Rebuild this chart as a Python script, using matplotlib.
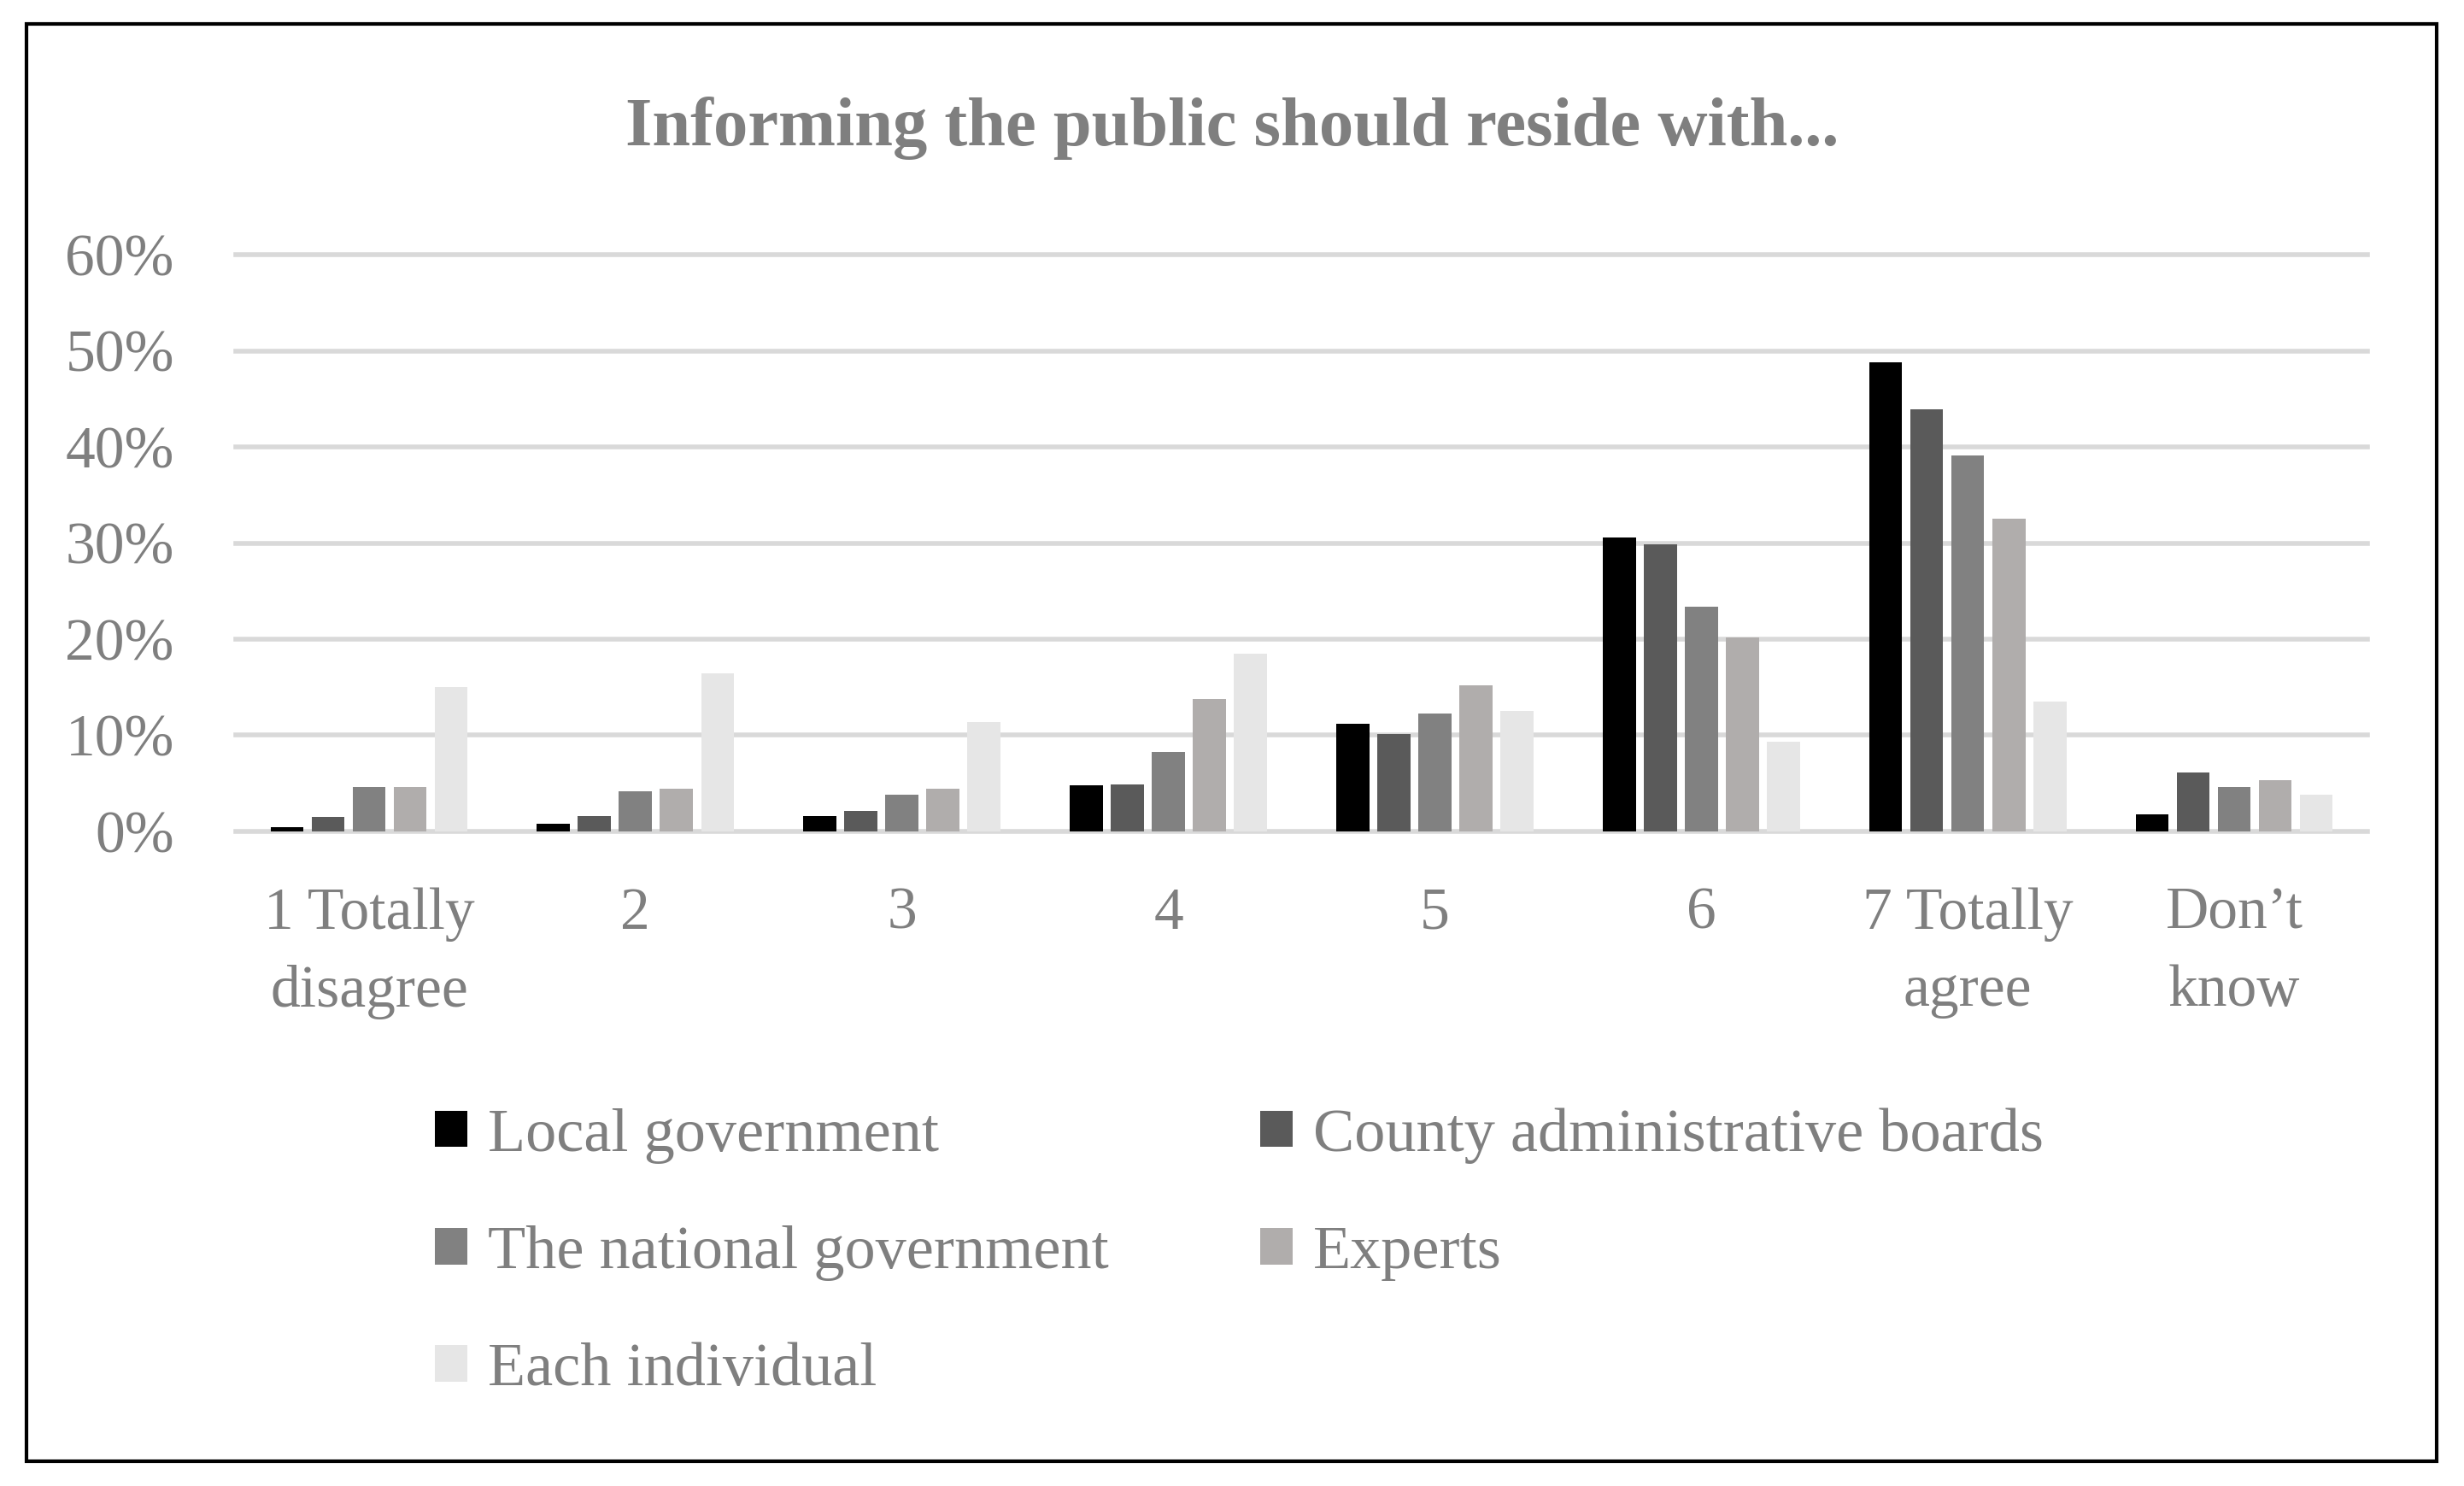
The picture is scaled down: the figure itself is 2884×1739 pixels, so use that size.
import matplotlib
matplotlib.use("Agg")
import matplotlib.pyplot as plt
import numpy as np
from matplotlib.patches import Rectangle
from matplotlib.ticker import PercentFormatter

# Survey answers, in percent
categories = ["1 Totally\ndisagree", "2", "3", "4", "5", "6", "7 Totally\nagree", "Don\u2019t\nknow"]
series_names = [
    "Local government",
    "County administrative boards",
    "The national government",
    "Experts",
    "Each individual",
]
local_government = [0.4, 0.8, 1.6, 4.8, 11.2, 30.6, 48.8, 1.8]
county_boards = [1.5, 1.6, 2.1, 4.9, 10.1, 29.9, 43.9, 6.1]
national_government = [4.6, 4.2, 3.8, 8.3, 12.3, 23.4, 39.1, 4.6]
experts = [4.6, 4.4, 4.4, 13.8, 15.2, 20.2, 32.5, 5.3]
each_individual = [15.0, 16.4, 11.4, 18.5, 12.5, 9.3, 13.5, 3.8]
y_ticks = [0, 10, 20, 30, 40, 50, 60]

series_values = [local_government, county_boards, national_government, experts, each_individual]
colors = ["#000000", "#5a5a5a", "#818181", "#b0adac", "#e6e6e6"]
text_color = "#7f7f7f"
grid_color = "#d9d9d9"

plt.rcParams["font.family"] = ["Liberation Serif", "DejaVu Serif"]

fig = plt.figure(figsize=(28.84, 17.39), dpi=100)
ax = fig.add_axes([0.0957, 0.4405, 0.8651, 0.3881])

x = np.arange(len(categories))
pitch = 0.154
bar_width = 0.124
handles = []
for i, (name, vals, col) in enumerate(zip(series_names, series_values, colors)):
    bars = ax.bar(x + (i - 2) * pitch, vals, width=bar_width, color=col, label=name, zorder=3)
    handles.append(bars)

ax.set_xlim(-0.5, len(categories) - 0.5)
ax.set_ylim(0, 60)
ax.set_yticks(y_ticks)
ax.yaxis.set_major_formatter(PercentFormatter(decimals=0))
ax.set_xticks(x)
ax.set_xticklabels(categories, linespacing=1.55)

ax.yaxis.grid(True, color=grid_color, linewidth=4)
for line in ax.get_ygridlines():
    line.set_clip_on(False)
ax.set_axisbelow(True)

for spine in ax.spines.values():
    spine.set_visible(False)
ax.tick_params(axis="both", length=0, labelsize=50, labelcolor=text_color)
ax.tick_params(axis="y", pad=52)
ax.tick_params(axis="x", pad=47)

fig.text(0.5, 0.914, "Informing the public should reside with...", ha="center", va="center",
         fontsize=58, fontweight="bold", color=text_color)

# legend fills column by column, so reorder to get the row-wise layout
order = [0, 2, 4, 1, 3]
leg = fig.legend([handles[k] for k in order], [series_names[k] for k in order],
                 ncol=2, loc="upper left", bbox_to_anchor=(0.154, 0.292), frameon=False,
                 fontsize=52, labelcolor=text_color, handlelength=0.53, handleheight=0.53,
                 handletextpad=0.33, columnspacing=2.45, labelspacing=1.0)

fig.patches.append(Rectangle((0.0107, 0.0167), 0.9783, 0.9673, transform=fig.transFigure,
                             fill=False, edgecolor="black", linewidth=3))

fig.savefig("out.png", dpi=100)
